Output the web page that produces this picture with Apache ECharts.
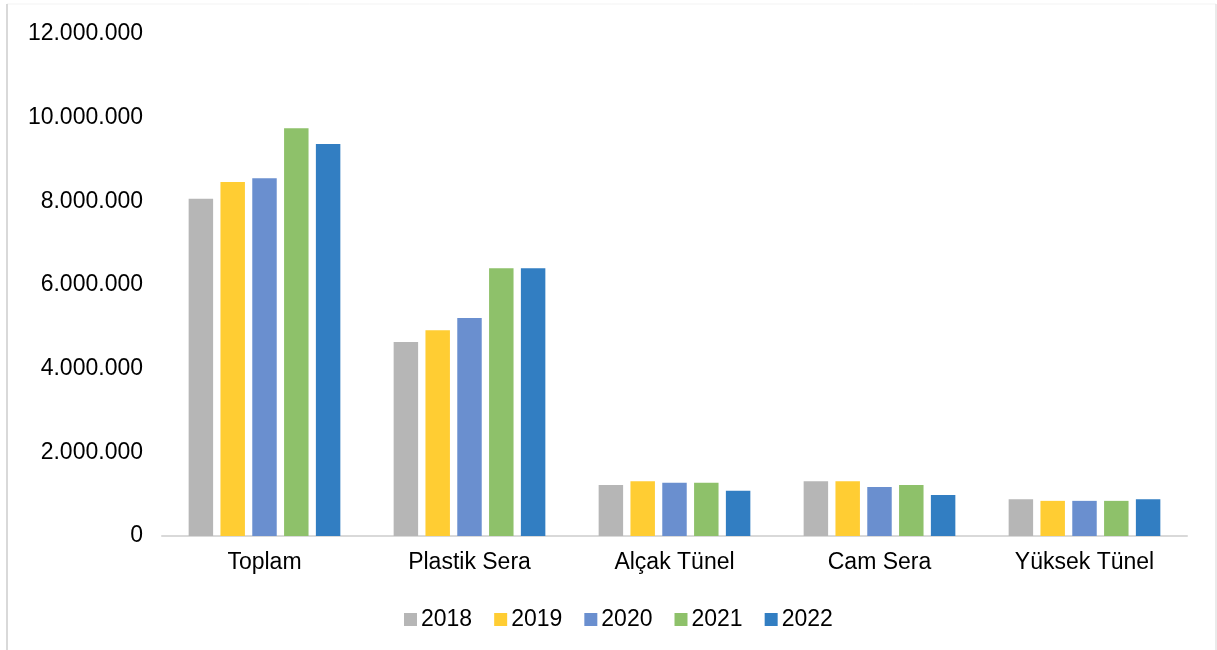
<!DOCTYPE html>
<html>
<head>
<meta charset="utf-8">
<script src="https://cdn.jsdelivr.net/npm/echarts@6/dist/echarts.min.js"></script>
<style>html,body{margin:0;padding:0;background:#fff}#c{width:1217px;height:650px}</style>
</head>
<body>
<div id="c"></div>
<script>
const categories = ['Toplam', 'Plastik Sera', 'Alçak Tünel', 'Cam Sera', 'Yüksek Tünel'];
const seriesNames = ['2018', '2019', '2020', '2021', '2022'];
const v2018 = [8060000, 4640000, 1220000, 1310000, 880000];
const v2019 = [8460000, 4920000, 1310000, 1310000, 840000];
const v2020 = [8550000, 5210000, 1270000, 1170000, 840000];
const v2021 = [9750000, 6400000, 1270000, 1220000, 840000];
const v2022 = [9370000, 6400000, 1080000, 980000, 880000];
const colors = ['#b6b6b6', '#ffcd33', '#6a8fcf', '#8ec16a', '#327ec2'];
const yMin = 0, yMax = 12000000, yStep = 2000000;

const values = [v2018, v2019, v2020, v2021, v2022];
const fmt = v => String(Math.round(v)).replace(/\B(?=(\d{3})+(?!\d))/g, '.');
const font = 'Liberation Sans, Arial, sans-serif';

const chart = echarts.init(document.getElementById('c'), null, {renderer: 'canvas'});
chart.setOption({
  animation: false,
  color: colors,
  graphic: [
    {type: 'line', silent: true, z: -1, shape: {x1: 7, y1: 4, x2: 1216, y2: 4}, style: {stroke: '#f3f3f3', lineWidth: 1}},
    {type: 'line', silent: true, z: -1, shape: {x1: 7, y1: 4, x2: 7, y2: 650}, style: {stroke: '#d9d9d9', lineWidth: 2}},
    {type: 'line', silent: true, z: -1, shape: {x1: 1216, y1: 4, x2: 1216, y2: 650}, style: {stroke: '#e3e3e3', lineWidth: 1.5}}
  ],
  grid: {left: 162, right: 30, top: 34, bottom: 114},
  legend: {
    data: seriesNames, left: 399, top: 603,
    icon: 'rect', itemWidth: 13, itemHeight: 13, itemGap: 22,
    textStyle: {fontFamily: font, fontSize: 23, color: '#000', padding: [0, 0, 0, -1]}
  },
  xAxis: {
    type: 'category', data: categories,
    axisLine: {lineStyle: {color: '#d9d9d9', width: 2}},
    axisTick: {show: false},
    axisLabel: {fontFamily: font, fontSize: 23, color: '#000', margin: 15}
  },
  yAxis: {
    type: 'value', min: yMin, max: yMax, interval: yStep,
    axisLine: {show: false}, axisTick: {show: false},
    splitLine: {show: false},
    axisLabel: {fontFamily: font, fontSize: 23, color: '#000', margin: 19, formatter: fmt}
  },
  series: seriesNames.map((n, i) => ({
    name: n, type: 'bar', data: values[i],
    barGap: '30%', barCategoryGap: '26%'
  }))
});
</script>
</body>
</html>
